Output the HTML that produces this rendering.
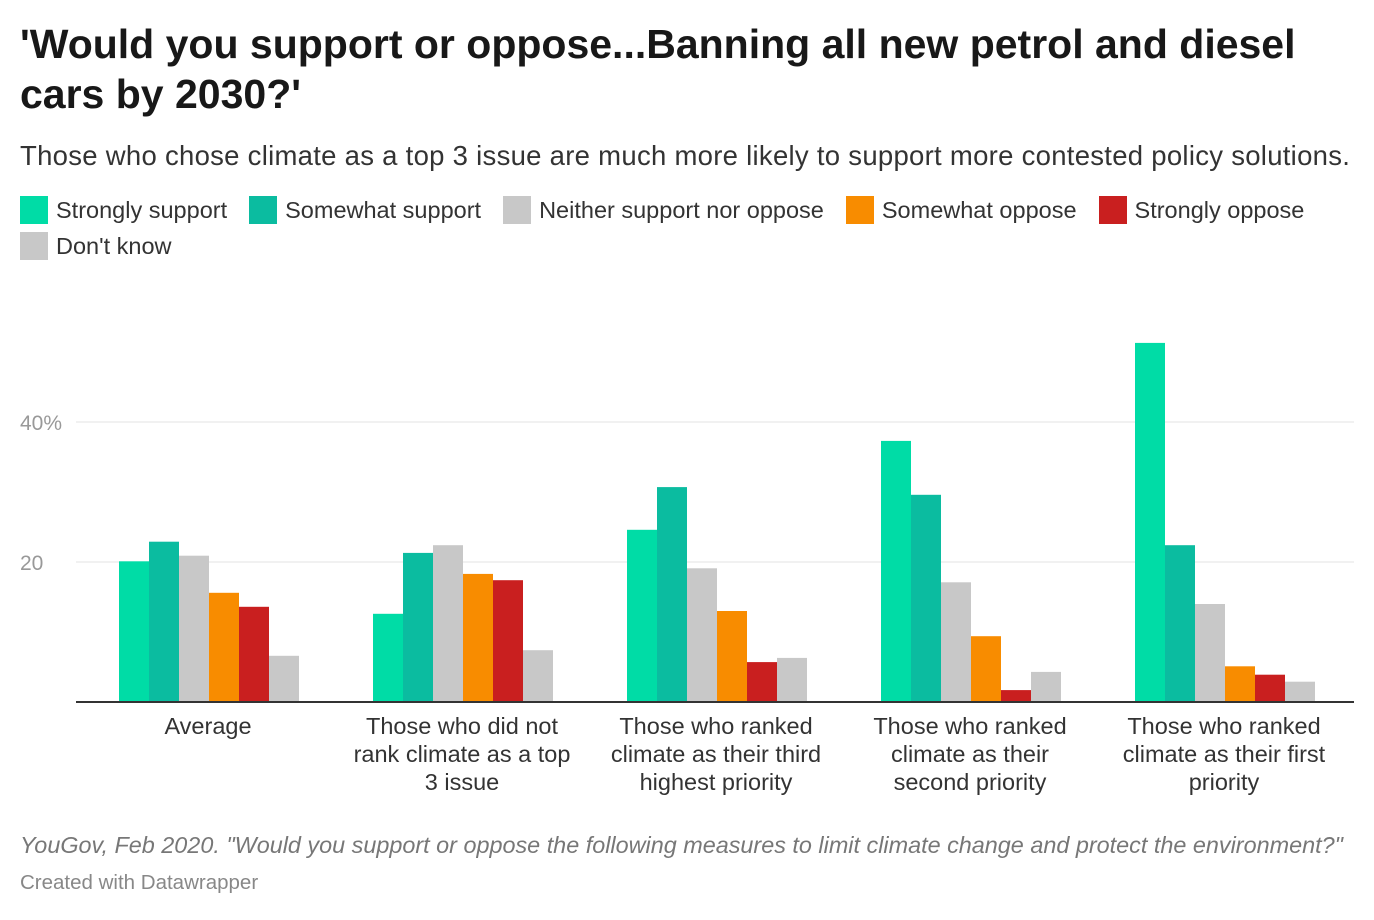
<!DOCTYPE html>
<html><head><meta charset="utf-8">
<style>
body{margin:0;width:1374px;height:920px;background:#fff;font-family:"Liberation Sans",sans-serif;color:#181818;position:relative;overflow:hidden}
h1{position:absolute;left:20px;top:19px;margin:0;font-size:41px;line-height:50px;font-weight:bold;width:1340px}
.sub{position:absolute;left:20px;top:140px;font-size:27.5px;letter-spacing:0.28px;color:#333;white-space:nowrap}
.legend{position:absolute;left:20px;top:192px;width:1340px;font-size:23.5px;color:#333;display:flex;flex-wrap:wrap}
.li{display:flex;align-items:center;margin-right:22px;height:36px}
.br{flex-basis:100%;height:0}
.sw{width:28px;height:28px;margin-right:8px;display:inline-block}
.foot{position:absolute;left:20px;top:832px;font-size:23.4px;font-style:italic;color:#777;white-space:nowrap}
.cw{position:absolute;left:20px;top:871px;font-size:20.5px;color:#888}
</style></head><body>
<h1>'Would you support or oppose...Banning all new petrol and diesel cars by 2030?'</h1>
<div class="sub">Those who chose climate as a top 3 issue are much more likely to support more contested policy solutions.</div>
<div class="legend">
<span class="li"><span class="sw" style="background:#00dca6"></span>Strongly support</span>
<span class="li"><span class="sw" style="background:#0bbca0"></span>Somewhat support</span>
<span class="li"><span class="sw" style="background:#c8c8c8"></span>Neither support nor oppose</span>
<span class="li"><span class="sw" style="background:#f88c00"></span>Somewhat oppose</span>
<span class="li"><span class="sw" style="background:#c91f1f"></span>Strongly oppose</span><span class="br"></span>
<span class="li"><span class="sw" style="background:#c8c8c8"></span>Don't know</span>
</div>
<svg id="chart" width="1374" height="920" style="position:absolute;left:0;top:0"></svg>
<div class="foot">YouGov, Feb 2020. "Would you support or oppose the following measures to limit climate change and protect the environment?"</div>
<div class="cw">Created with Datawrapper</div>
<script>
const categories=[["Average"],["Those who did not","rank climate as a top","3 issue"],["Those who ranked","climate as their third","highest priority"],["Those who ranked","climate as their","second priority"],["Those who ranked","climate as their first","priority"]];
const seriesNames=["Strongly support","Somewhat support","Neither support nor oppose","Somewhat oppose","Strongly oppose","Don't know"];
const seriesColors=["#00dca6","#0bbca0","#c8c8c8","#f88c00","#c91f1f","#c8c8c8"];
const stronglySupport=[20.1,12.6,24.6,37.3,51.3];
const somewhatSupport=[22.9,21.3,30.7,29.6,22.4];
const neither=[20.9,22.4,19.1,17.1,14.0];
const somewhatOppose=[15.6,18.3,13.0,9.4,5.1];
const stronglyOppose=[13.6,17.4,5.7,1.7,3.9];
const dontKnow=[6.6,7.4,6.3,4.3,2.9];
const tickValues=[20,40];
const tickLabels=["20","40%"];
const series=[stronglySupport,somewhatSupport,neither,somewhatOppose,stronglyOppose,dontKnow];
const NS="http://www.w3.org/2000/svg",svg=document.getElementById('chart');
const y=v=>702-v*7, gx=i=>119+i*254, bw=30;
function mk(t,a){const e=document.createElementNS(NS,t);for(const k in a)e.setAttribute(k,a[k]);svg.appendChild(e);return e;}
tickValues.forEach((t,i)=>{
 const l=mk('line',{x1:76,x2:1354,y1:y(t),y2:y(t),stroke:'#e3e3e3','stroke-width':1});
 
 
 const tx=mk('text',{x:20,y:y(t)+8,'font-size':21,fill:'#999','font-family':'Liberation Sans, sans-serif'});
 tx.textContent=tickLabels[i];
 
 
});
series.forEach((s,si)=>s.forEach((v,ci)=>{
 const r=mk('rect',{x:gx(ci)+si*bw,y:y(v),width:bw,height:v*7,fill:seriesColors[si]});
 
 
}));
const ax=mk('line',{x1:76,x2:1354,y1:702,y2:702,stroke:'#333','stroke-width':2});


categories.forEach((c,ci)=>{
 c.forEach((ln,li)=>{
  const t=mk('text',{x:gx(ci)+89,y:734+li*28,'text-anchor':'middle','font-size':23.5,fill:'#333','font-family':'Liberation Sans, sans-serif'});
  t.textContent=ln;
  
  
 });
});
</script>
</body></html>
